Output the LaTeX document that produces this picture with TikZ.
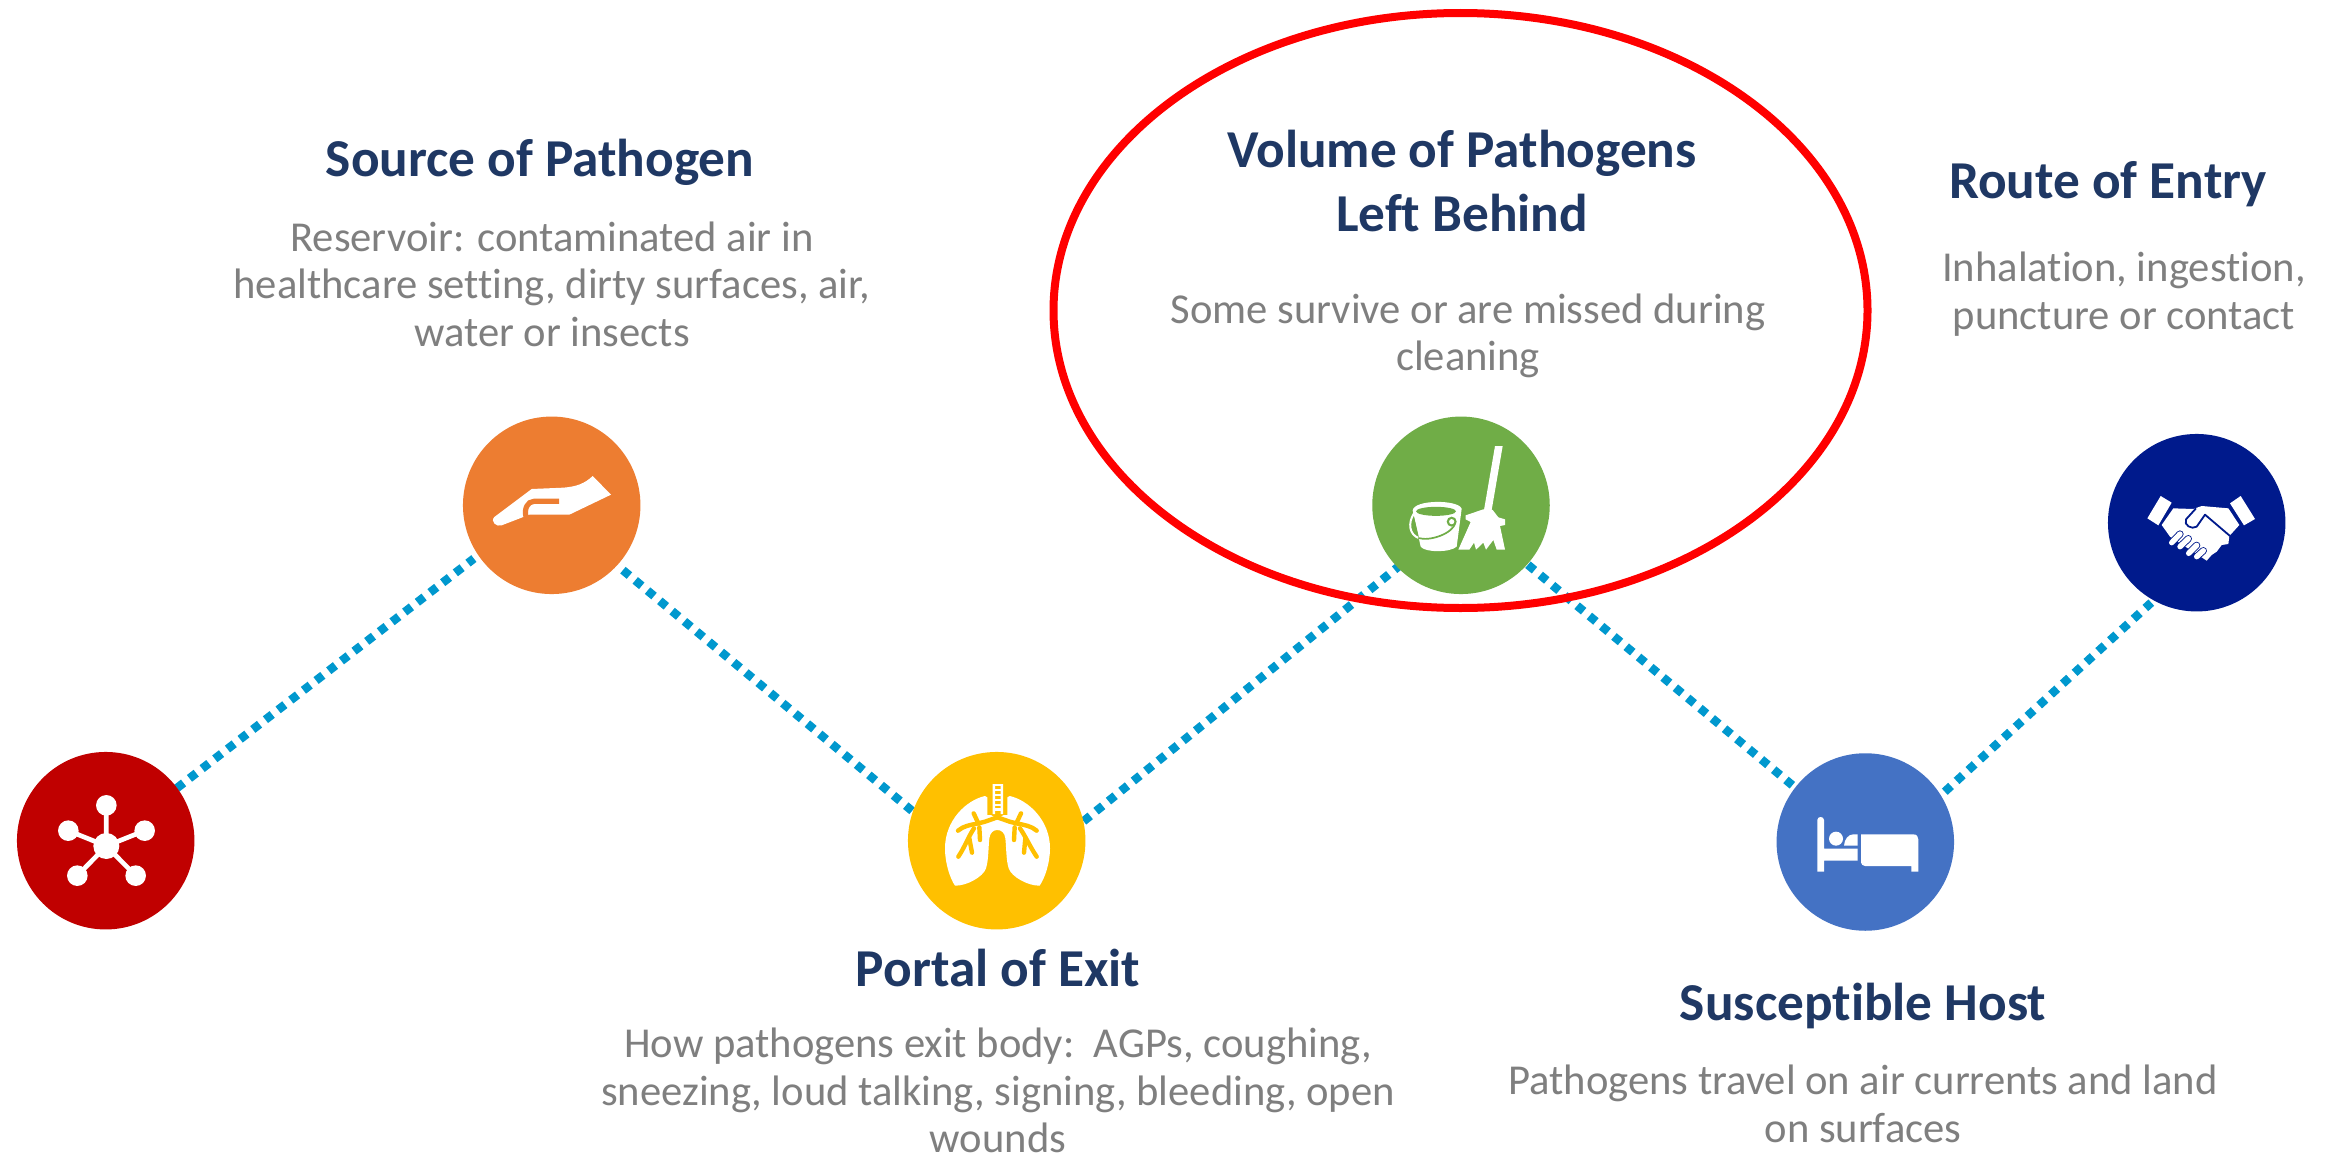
\documentclass[tikz,border=0pt]{standalone}
\usepackage{fontspec}
\setmainfont[Ligatures=NoCommon]{Carlito}
\usetikzlibrary{backgrounds}
\definecolor{ctitle}{HTML}{1F3864}
\definecolor{cbody}{HTML}{7F7F7F}
\definecolor{cdot}{HTML}{0098CE}
\definecolor{cred}{HTML}{C00000}
\definecolor{corange}{HTML}{ED7D31}
\definecolor{cyellow}{HTML}{FFC000}
\definecolor{cgreen}{HTML}{70AD47}
\definecolor{cblue}{HTML}{4472C4}
\definecolor{cnavy}{HTML}{001A8C}
\tikzset{
  disc/.style={circle,minimum size=177.5pt,inner sep=0pt,fill=#1},
  titletext/.style={text=ctitle,align=center,inner sep=0pt,font=\fontsize{53.3}{64}\selectfont\bfseries},
  bodytext/.style={text=cbody,align=center,inner sep=0pt,font=\fontsize{42.6}{47.5}\selectfont},
  dotline/.style={draw=cdot,line width=8.5pt,dash pattern=on 8.5pt off 7.5pt,shorten <=-4pt,shorten >=-4pt},
  ico/.style={x=0.33333pt,y=-0.33333pt},
}
\begin{document}
\begin{tikzpicture}[x=1pt,y=-1pt,line cap=butt]
\useasboundingbox (0,0) rectangle (2329,1156);
\node[disc=cred] (reservoir) at (105.7,840.7) {};
\node[disc=corange] (source) at (551.7,505.3) {};
\node[disc=cyellow] (portal) at (996.7,840.7) {};
\node[disc=cgreen] (volume) at (1461,505.3) {};
\node[disc=cblue] (host) at (1865.3,842) {};
\node[disc=cnavy] (route) at (2196.7,522.7) {};
\coordinate (a1) at (180,785.7);
\coordinate (a2) at (470.7,561);
\coordinate (b1) at (626,572.7);
\coordinate (b2) at (909,808.3);
\coordinate (c1) at (1086.7,818.7);
\coordinate (c2) at (1396.7,568);
\coordinate (d1) at (1531,567.3);
\coordinate (d2) at (1789.3,782.7);
\coordinate (e1) at (1947.7,789);
\coordinate (e2) at (2148.3,605.3);
\begin{scope}[on background layer]
\fill[white] (0,0) rectangle (2329,1156);
\draw[dotline] (a1) -- (a2);
\draw[dotline] (b1) -- (b2);
\draw[dotline] (c1) -- (c2);
\draw[dotline] (d1) -- (d2);
\draw[dotline] (e1) -- (e2);
\end{scope}
% network icon
\begin{scope}[shift={(0,740)},ico]
\draw[white,line width=4.7pt] (319,318)--(319,196) (319,318)--(205,272) (319,318)--(434,272) (319,318)--(232,407) (319,318)--(407,407);
\fill[white] (319,318) circle[radius=13pt];
\foreach \p in {(319,196),(205,272),(434,272),(232,407),(407,407)} \fill[white] \p circle[radius=10.3pt];
\end{scope}
% hand icon
\begin{scope}[shift={(440,420)},ico]
\fill[white] (163,291) -- (275,207) -- (370,203) .. controls (410,200) and (435,190) .. (458,168) -- (513,224) -- (388,284) -- (268,284) -- (185,316) .. controls (170,322) and (150,305) .. (163,291) -- cycle;
\draw[corange,line width=5.2pt] (357,244) -- (282,244) .. controls (262,244) and (252,268) .. (258,290);
\end{scope}
% lungs icon
\begin{scope}[shift={(890,740)},ico]
\fill[white] (285,168) .. controls (230,180) and (165,240) .. (165,325) .. controls (165,370) and (180,415) .. (195,437)
 .. controls (230,438) and (280,410) .. (288,385) .. controls (296,360) and (295,320) .. (298,295) .. controls (300,278) and (310,270) .. (322,270)
 .. controls (334,270) and (344,278) .. (346,295) .. controls (349,320) and (348,360) .. (356,385) .. controls (364,410) and (414,438) .. (449,437)
 .. controls (464,415) and (480,370) .. (480,325) .. controls (480,240) and (414,180) .. (359,168) -- (352,172) -- (352,225) -- (292,225) -- (292,172) -- cycle;
\begin{scope}[cyellow,line width=4.4pt,line cap=round,line join=round]
\draw (322,232) -- (285,245) -- (265,250) -- (251,220);
\draw (322,232) -- (359,245) -- (379,250) -- (393,220);
\draw (265,250) .. controls (240,255) and (220,258) .. (204,272);
\draw (379,250) .. controls (404,255) and (424,258) .. (440,272);
\draw (268,262) -- (270,300);
\draw (374,262) -- (372,300);
\draw (252,265) .. controls (235,290) and (225,320) .. (205,350);
\draw (390,265) .. controls (407,290) and (420,320) .. (440,350);
\draw (238,295) -- (246,338);
\draw (406,295) -- (402,338);
\end{scope}
\fill[cyellow] (293,165) rectangle (351,226);
\fill[cyellow] (302,224) -- (342,224) -- (322,236) -- cycle;
\fill[white] (308,132) rectangle (315,222) (332,132) rectangle (339,222);
\foreach \yy in {132,147,162,177,192,205} \fill[white] (308,\yy) rectangle (339,\yy+7);
\end{scope}
% bucket and broom icon
\begin{scope}[shift={(1350,400)},ico]
\fill[white] (188,332) .. controls (190,298) and (325,298) .. (335,326) -- (320,440) .. controls (300,458) and (225,458) .. (212,440) -- cycle;
\fill[cgreen] (258,334) ellipse[x radius=20pt,y radius=4.5pt];
\fill[cgreen] (192,350) -- (207,414) -- (175,400) -- (175,345) -- cycle;
\draw[white,line width=2pt] (193,338) .. controls (172,370) and (178,405) .. (208,415);
\draw[cgreen,line width=1.7pt] (205,414) .. controls (240,425) and (310,400) .. (316,368);
\fill[cgreen] (305,365) circle[radius=5pt];
\fill[white] (305,365) circle[radius=2.6pt];
\fill[white] (435,138) -- (458,138) -- (425,330) -- (402,330) -- cycle;
\fill[white] (347,346) -- (400,328) -- (428,330) -- (445,352) -- (465,358) -- (465,375) -- (450,378) -- (465,449) -- (440,449) -- (430,420) -- (408,449) -- (400,428) -- (378,449) -- (372,428) -- (358,449) -- (325,449) -- (362,366) -- (347,358) -- cycle;
\end{scope}
% bed icon
\begin{scope}[shift={(1760,750)},ico]
\fill[white] (172,365) -- (172,210) .. controls (172,198) and (192,198) .. (192,210) -- (192,296) -- (293,296) -- (293,332) -- (192,332) -- (192,365) -- cycle;
\fill[white] (228,266) circle[radius=7pt];
\fill[white] (252,287) .. controls (253,268) and (265,253) .. (280,253) -- (293,253) -- (293,287) -- cycle;
\fill[white] (303,253) -- (460,253) .. controls (470,253) and (475,260) .. (475,268) -- (475,365) -- (454,365) -- (454,348) -- (315,348) .. controls (308,348) and (303,342) .. (303,337) -- cycle;
\end{scope}
% handshake icon
\begin{scope}[shift={(2090,420)},ico]
\fill[white] (212,228) -- (245,248) -- (205,316) -- (172,295) -- cycle;
\fill[white] (452,228) -- (420,250) -- (462,316) -- (495,297) -- cycle;
\fill[white] (250,265) -- (310,267) -- (335,258) -- (415,265) -- (448,315) -- (418,348) -- (415,372) -- (395,375) -- (380,395) -- (365,405) -- (350,422) -- (335,412) -- (240,350) -- (215,315) -- cycle;
\draw[cnavy,line width=1.8pt,line join=round] (420,348) -- (345,284) -- (320,320) .. controls (305,330) and (280,315) .. (288,298) -- (318,265);
\foreach \a/\b/\c/\d in {245/368/270/342,270/380/295/356,296/400/320/376,320/410/340/392} {
\draw[cnavy,line width=7.2pt,line cap=round] (\a,\b) -- (\c,\d);
\draw[white,line width=5.4pt,line cap=round] (\a,\b) -- (\c,\d);}
\end{scope}
% texts
\node[titletext] (t1) at (540,162) {Source of Pathogen};
\node[bodytext] (b1) at (552,284) {Reservoir: contaminated air in\\healthcare setting, dirty surfaces, air,\\water or insects};
\node[titletext] (t2) at (1462,181) {Volume of Pathogens\\Left Behind};
\node[bodytext] (b2) at (1468,336) {Some survive or are missed during\\cleaning};
\node[titletext] (t3) at (2108,184) {Route of Entry};
\node[bodytext] (b3) at (2124,294) {Inhalation, ingestion,\\puncture or contact};
\node[titletext] (t4) at (998,968) {Portal of Exit};
\node[bodytext] (b4) at (998,1090.5) {How pathogens exit body:\ \ AGPs, coughing,\\sneezing, loud talking, signing, bleeding, open\\wounds};
\node[titletext] (t5) at (1863,1006) {Susceptible Host};
\node[bodytext] (b5) at (1863,1104) {Pathogens travel on air currents and land\\on surfaces};
% highlight ring
\draw[red,line width=8pt] (1460.5,310.5) ellipse[x radius=407pt,y radius=297.5pt];
\end{tikzpicture}
\end{document}
